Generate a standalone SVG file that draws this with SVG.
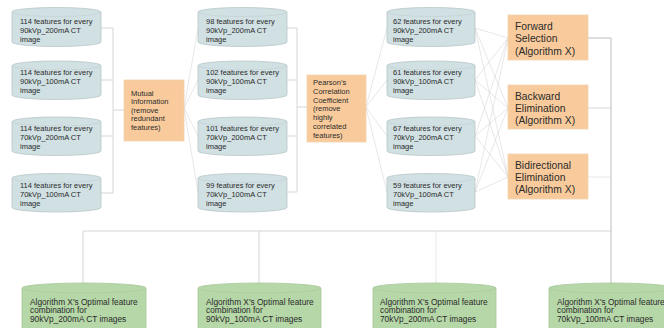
<svg xmlns="http://www.w3.org/2000/svg" width="664" height="328" viewBox="0 0 664 328">
<style>
.cyl{fill:#d0e0e3;stroke:#b9c6c8;stroke-width:0.8}
.cylf{fill:none;stroke:#c3cfd1;stroke-width:0.6}
.gcyl{fill:#b6d7a8;stroke:#a9c79b;stroke-width:0.8}
.gcylf{fill:none;stroke:#a9c79b;stroke-width:0.6}
.box{fill:#f9cb9c;stroke:#f3d2b0;stroke-width:0.8}
.t{font-family:"Liberation Sans",Arial,sans-serif;font-size:7.5px;fill:#2b2b2b}
.tb{font-family:"Liberation Sans",Arial,sans-serif;font-size:10.3px;fill:#2b2b2b}
.tg{font-family:"Liberation Sans",Arial,sans-serif;font-size:8.3px;fill:#2b2b2b}
.c{fill:none;stroke:#cccccc;stroke-width:0.8}
.f{fill:none;stroke:#d6d6d6;stroke-width:0.6}
.d{fill:none;stroke:#bdbdbd;stroke-width:1}
</style>
<g id="connectors">
<path class="c" d="M101,28H113M101,80H113M101,136H113M101,193H113M113,28V193M113,110H124"/>
<path class="f" d="M184,108L198,28M184,108L198,80M184,108L198,136M184,108L198,192"/>
<path class="c" d="M287,28H297M287,80H297M287,136H297M287,192H297M297,28V192M297,107H307"/>
<path class="f" d="M366,107L387,28M366,107L387,80M366,107L387,136M366,107L387,192"/>
<path class="f" d="M475,28L508,38M475,28L508,108M475,28L508,177M475,80L508,38M475,80L508,108M475,80L508,177M475,136L508,38M475,136L508,108M475,136L508,177M475,192L508,38M475,192L508,108M475,192L508,177"/>
<path class="d" d="M588,38H611M611,38V283"/>
<path class="c" d="M588,108H611"/>
<path class="f" d="M588,177H611"/>
<path class="c" d="M83,231H611M83,231V283M259,231V283"/>
<path class="f" d="M436,231V283"/>
</g>
<g id="c1a"><path class="cyl" d="M12,12A44.5,4.5 0 0 1 101,12V42A44.5,4.5 0 0 1 12,42Z"/><path class="cylf" d="M12,12A44.5,4.5 0 0 0 101,12"/>
<text class="t" x="20"><tspan x="20" y="24.4">114 features for every</tspan><tspan x="20" y="33.4">90kVp_200mA CT</tspan><tspan x="20" y="42.4">image</tspan></text></g>
<g id="c1b"><path class="cyl" d="M12,65.5A44.5,4.5 0 0 1 101,65.5V95A44.5,4.5 0 0 1 12,95Z"/><path class="cylf" d="M12,65.5A44.5,4.5 0 0 0 101,65.5"/>
<text class="t"><tspan x="20" y="75.4">114 features for every</tspan><tspan x="20" y="84.4">90kVp_100mA CT</tspan><tspan x="20" y="93.4">image</tspan></text></g>
<g id="c1c"><path class="cyl" d="M12,121.5A44.5,4.5 0 0 1 101,121.5V151A44.5,4.5 0 0 1 12,151Z"/><path class="cylf" d="M12,121.5A44.5,4.5 0 0 0 101,121.5"/>
<text class="t"><tspan x="20" y="130.7">114 features for every</tspan><tspan x="20" y="139.7">70kVp_200mA CT</tspan><tspan x="20" y="148.7">image</tspan></text></g>
<g id="c1d"><path class="cyl" d="M12,178A44.5,4.5 0 0 1 101,178V207.5A44.5,4.5 0 0 1 12,207.5Z"/><path class="cylf" d="M12,178A44.5,4.5 0 0 0 101,178"/>
<text class="t"><tspan x="20" y="187.7">114 features for every</tspan><tspan x="20" y="196.7">70kVp_100mA CT</tspan><tspan x="20" y="205.7">image</tspan></text></g>
<g id="mutual"><rect class="box" x="124" y="80" width="60" height="61"/>
<text class="t"><tspan x="131" y="96">Mutual</tspan><tspan x="131" y="104.4">Information</tspan><tspan x="131" y="112.7">(remove</tspan><tspan x="131" y="121">redundant</tspan><tspan x="131" y="129.5">features)</tspan></text></g>
<g id="c2a"><path class="cyl" d="M198,12A44.5,4.5 0 0 1 287,12V42A44.5,4.5 0 0 1 198,42Z"/><path class="cylf" d="M198,12A44.5,4.5 0 0 0 287,12"/>
<text class="t"><tspan x="206" y="24.4">98 features for every</tspan><tspan x="206" y="33.4">90kVp_200mA CT</tspan><tspan x="206" y="42.4">image</tspan></text></g>
<g id="c2b"><path class="cyl" d="M198,65.5A44.5,4.5 0 0 1 287,65.5V95A44.5,4.5 0 0 1 198,95Z"/><path class="cylf" d="M198,65.5A44.5,4.5 0 0 0 287,65.5"/>
<text class="t"><tspan x="206" y="75.4">102 features for every</tspan><tspan x="206" y="84.4">90kVp_100mA CT</tspan><tspan x="206" y="93.4">image</tspan></text></g>
<g id="c2c"><path class="cyl" d="M198,121.5A44.5,4.5 0 0 1 287,121.5V151A44.5,4.5 0 0 1 198,151Z"/><path class="cylf" d="M198,121.5A44.5,4.5 0 0 0 287,121.5"/>
<text class="t"><tspan x="206" y="130.7">101 features for every</tspan><tspan x="206" y="139.7">70kVp_200mA CT</tspan><tspan x="206" y="148.7">image</tspan></text></g>
<g id="c2d"><path class="cyl" d="M198,178A44.5,4.5 0 0 1 287,178V207.5A44.5,4.5 0 0 1 198,207.5Z"/><path class="cylf" d="M198,178A44.5,4.5 0 0 0 287,178"/>
<text class="t"><tspan x="206" y="187.7">99 features for every</tspan><tspan x="206" y="196.7">70kVp_100mA CT</tspan><tspan x="206" y="205.7">image</tspan></text></g>
<g id="pearson"><rect class="box" x="307" y="75" width="59" height="67"/>
<text class="t"><tspan x="313" y="84.8">Pearson’s</tspan><tspan x="313" y="93.7">Correlation</tspan><tspan x="313" y="102.5">Coefficient</tspan><tspan x="313" y="111.4">(remove</tspan><tspan x="313" y="120.3">highly</tspan><tspan x="313" y="129.2">correlated</tspan><tspan x="313" y="138.1">features)</tspan></text></g>
<g id="c3a"><path class="cyl" d="M387,12A44,4.5 0 0 1 475,12V42A44,4.5 0 0 1 387,42Z"/><path class="cylf" d="M387,12A44,4.5 0 0 0 475,12"/>
<text class="t"><tspan x="393" y="24.4">62 features for every</tspan><tspan x="393" y="33.4">90kVp_200mA CT</tspan><tspan x="393" y="42.4">image</tspan></text></g>
<g id="c3b"><path class="cyl" d="M387,65.5A44,4.5 0 0 1 475,65.5V95A44,4.5 0 0 1 387,95Z"/><path class="cylf" d="M387,65.5A44,4.5 0 0 0 475,65.5"/>
<text class="t"><tspan x="393" y="75.4">61 features for every</tspan><tspan x="393" y="84.4">90kVp_100mA CT</tspan><tspan x="393" y="93.4">image</tspan></text></g>
<g id="c3c"><path class="cyl" d="M387,121.5A44,4.5 0 0 1 475,121.5V151A44,4.5 0 0 1 387,151Z"/><path class="cylf" d="M387,121.5A44,4.5 0 0 0 475,121.5"/>
<text class="t"><tspan x="393" y="130.7">67 features for every</tspan><tspan x="393" y="139.7">70kVp_200mA CT</tspan><tspan x="393" y="148.7">image</tspan></text></g>
<g id="c3d"><path class="cyl" d="M387,178A44,4.5 0 0 1 475,178V207.5A44,4.5 0 0 1 387,207.5Z"/><path class="cylf" d="M387,178A44,4.5 0 0 0 475,178"/>
<text class="t"><tspan x="393" y="187.7">59 features for every</tspan><tspan x="393" y="196.7">70kVp_100mA CT</tspan><tspan x="393" y="205.7">image</tspan></text></g>
<g id="forward"><rect class="box" x="508" y="15" width="80" height="45"/>
<text class="tb"><tspan x="515" y="29.7">Forward</tspan><tspan x="515" y="42">Selection</tspan><tspan x="515" y="54.5">(Algorithm X)</tspan></text></g>
<g id="backward"><rect class="box" x="508" y="85" width="80" height="44"/>
<text class="tb"><tspan x="515" y="99.5">Backward</tspan><tspan x="515" y="111.8">Elimination</tspan><tspan x="515" y="124">(Algorithm X)</tspan></text></g>
<g id="bidirectional"><rect class="box" x="508" y="154" width="80" height="45"/>
<text class="tb"><tspan x="515" y="168.5">Bidirectional</tspan><tspan x="515" y="180.8">Elimination</tspan><tspan x="515" y="193">(Algorithm X)</tspan></text></g>
<g id="g1"><path class="gcyl" d="M22,288A62,5 0 0 1 146,288V340H22Z"/><path class="gcylf" d="M22,288A62,5 0 0 0 146,288"/>
<text class="tg"><tspan x="30" y="304.7">Algorithm X's Optimal feature</tspan><tspan x="30" y="313.2">combination for</tspan><tspan x="30" y="322.3">90kVp_200mA CT images</tspan></text></g>
<g id="g2"><path class="gcyl" d="M198,288A61.5,5 0 0 1 321,288V340H198Z"/><path class="gcylf" d="M198,288A61.5,5 0 0 0 321,288"/>
<text class="tg"><tspan x="206" y="304.7">Algorithm X's Optimal feature</tspan><tspan x="206" y="313.2">combination for</tspan><tspan x="206" y="322.3">90kVp_100mA CT images</tspan></text></g>
<g id="g3"><path class="gcyl" d="M373,288A61.5,5 0 0 1 496,288V340H373Z"/><path class="gcylf" d="M373,288A61.5,5 0 0 0 496,288"/>
<text class="tg"><tspan x="380" y="304.7">Algorithm X's Optimal feature</tspan><tspan x="380" y="313.2">combination for</tspan><tspan x="380" y="322.3">70kVp_200mA CT images</tspan></text></g>
<g id="g4"><path class="gcyl" d="M549,288A62,5 0 0 1 673,288V340H549Z"/><path class="gcylf" d="M549,288A62,5 0 0 0 673,288"/>
<text class="tg"><tspan x="557" y="304.7">Algorithm X's Optimal feature</tspan><tspan x="557" y="313.2">combination for</tspan><tspan x="557" y="322.3">70kVp_100mA CT images</tspan></text></g>
</svg>
